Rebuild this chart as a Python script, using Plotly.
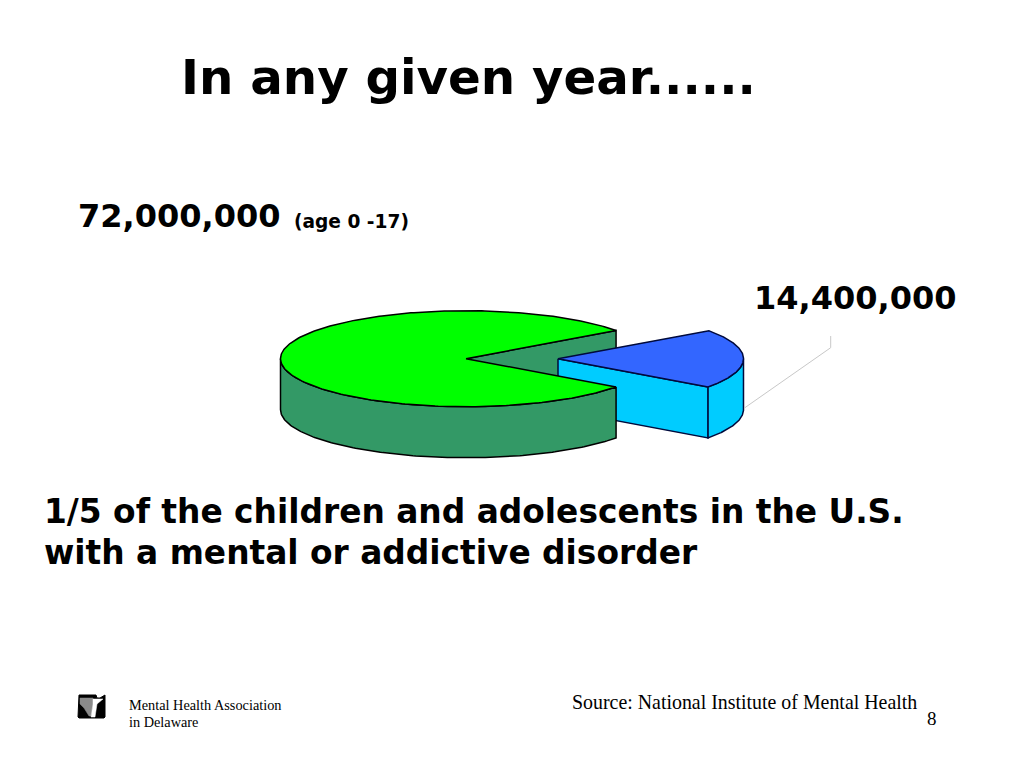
import numpy as np
import plotly.graph_objects as go

# --- data ---
slice_labels = ["Other children and adolescents", "With a mental or addictive disorder"]
slice_values = [57600000, 14400000]
total_label = "72,000,000"
part_label = "14,400,000"

# --- pie projection (pixel-like plot units) ---
CX, CY, RX, RY, DEPTH, EXPLODE = 466.0, 358.7, 185.5, 48.0, 51.0, 92.0
GREEN, DGREEN, BLUE, CYAN = "#00FF00", "#339966", "#3366FF", "#00CCFF"
NAVY = "#000A3C"

half = 360.0 * slice_values[1] / sum(slice_values) / 2.0


def arc(a0, a1, cx, dy=0.0, n=160):
    t = np.radians(np.linspace(a0, a1, n))
    return cx + RX * np.cos(t), CY + dy + RY * np.sin(t)


def poly(x, y, fill, line="black", width=1.5):
    return go.Scatter(x=np.r_[x, x[0]], y=np.r_[y, y[0]], mode="lines", fill="toself",
                      fillcolor=fill, line=dict(color=line, width=width),
                      hoverinfo="skip", showlegend=False)


fig = go.Figure()

# far cut face of the big slice
ex, ey = arc(-half, -half, CX, n=1)
fig.add_trace(poly(np.array([CX, ex[0], ex[0], CX]),
                   np.array([CY, ey[0], ey[0] + DEPTH, CY + DEPTH]), DGREEN))

# small slice, pulled out
BX = CX + EXPLODE
sx, sy = arc(half, half, BX, n=1)
fig.add_trace(poly(np.array([BX, sx[0], sx[0], BX]),
                   np.array([CY, sy[0], sy[0] + DEPTH, CY + DEPTH]), CYAN, NAVY))
ax, ay = arc(0, half, BX)
bx, by = arc(half, 0, BX, DEPTH)
fig.add_trace(poly(np.r_[ax, bx], np.r_[ay, by], CYAN, NAVY))
tx, ty = arc(-half, half, BX)
fig.add_trace(poly(np.r_[BX, tx], np.r_[CY, ty], BLUE, NAVY))

# outer wall and top of the big slice
ax, ay = arc(half, 180, CX)
bx, by = arc(180, half, CX, DEPTH)
fig.add_trace(poly(np.r_[ax, bx], np.r_[ay, by], DGREEN))
tx, ty = arc(half, 360 - half, CX, n=300)
fig.add_trace(poly(np.r_[CX, tx], np.r_[CY, ty], GREEN))

# leader line
fig.add_trace(go.Scatter(x=[744, 830.7, 830.7], y=[408.3, 347.7, 336], mode="lines",
                         line=dict(color="#C8C8C8", width=1), hoverinfo="skip", showlegend=False))

# logo
fig.add_trace(poly(np.array([79, 96, 97, 100, 105, 105, 104, 79, 78]),
                   np.array([695, 695, 698, 698, 695, 717, 718, 718, 717]), "black", "black", 1))
fig.add_trace(poly(np.array([80, 93, 93, 91, 89, 84, 80]),
                   np.array([698, 698, 704, 716, 716, 708, 704]), "#8A8A8A", "#8A8A8A", 0.5))
fig.add_trace(poly(np.array([93, 103, 97, 95, 91, 93]),
                   np.array([699, 699, 704, 717, 717, 704]), "white", "white", 0.5))

A = "DejaVu Sans"
S = "Liberation Serif"


def txt(x, y, text, size, family=A, bold=True, anchor="left"):
    fig.add_annotation(x=x, y=y, text=f"<b>{text}</b>" if bold else text, showarrow=False,
                       xanchor=anchor, yanchor="middle", align="left",
                       font=dict(family=family, size=size, color="black"))


txt(179, 77, "In any given year......", 48.3)
txt(76, 216, total_label, 32)
txt(292, 221, "(age 0 -17)", 18.6)
txt(752, 298, part_label, 32)
txt(42, 512, "1/5 of the children and adolescents in the U.S.", 32.85)
txt(42, 553, "with a mental or addictive disorder", 32.85)
txt(127, 705, "Mental Health Association", 14.3, S, False)
txt(127, 722, "in Delaware", 14.3, S, False)
txt(570, 702, "Source: National Institute of Mental Health", 19.9, S, False)
txt(932, 718, "8", 19, S, False, "center")

fig.update_layout(width=1016, height=760, margin=dict(l=0, r=0, t=0, b=0),
                  paper_bgcolor="white", plot_bgcolor="white", showlegend=False,
                  xaxis=dict(range=[8, 1024], visible=False, fixedrange=True),
                  yaxis=dict(range=[768, 8], visible=False, fixedrange=True))
fig.write_html("out.html", config={"displayModeBar": False})
